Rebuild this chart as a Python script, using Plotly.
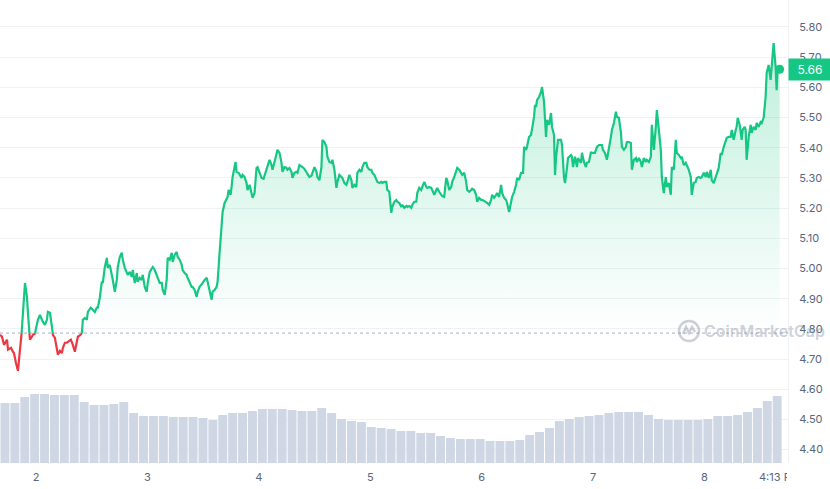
import plotly.graph_objects as go
from datetime import datetime, timedelta

# ---------------- data ----------------
start_time = datetime(2023, 3, 1, 16, 13)   # chart starts 7 days before 4:13 PM on day 8
end_label = "4:13 PM"

# hours since start_time
hours = [
    0.00, 0.43, 0.86, 1.51, 1.72, 2.37, 2.80, 3.01, 3.44, 3.87,
    4.09, 4.73, 4.95, 5.38, 5.81, 6.02, 6.45, 6.88, 7.10, 7.53,
    7.96, 8.17, 8.60, 9.03, 9.25, 9.68, 10.11, 10.32, 10.76, 11.19,
    11.40, 11.83, 12.26, 12.48, 12.91, 13.34, 13.55, 13.98, 14.41, 14.63,
    15.27, 15.70, 16.13, 16.56, 16.78, 17.21, 17.64, 17.85, 18.28, 18.71,
    18.93, 19.57, 20.00, 20.43, 20.86, 21.08, 21.51, 21.94, 22.16, 22.59,
    23.02, 23.23, 23.66, 24.09, 24.31, 24.74, 25.17, 25.38, 25.81, 26.24,
    26.46, 26.89, 27.32, 27.53, 27.96, 28.39, 28.61, 29.04, 29.47, 29.68,
    30.11, 30.54, 30.76, 31.19, 31.62, 31.83, 32.27, 32.70, 32.91, 33.34,
    33.77, 33.99, 34.42, 34.85, 35.06, 35.49, 35.92, 36.14, 36.57, 37.00,
    37.21, 37.64, 38.07, 38.29, 38.72, 39.15, 39.36, 39.79, 40.22, 40.44,
    40.87, 41.30, 41.51, 41.94, 42.37, 42.59, 43.02, 43.45, 43.67, 44.10,
    44.53, 44.74, 45.17, 45.60, 45.82, 46.25, 46.68, 46.89, 47.32, 47.75,
    47.97, 48.40, 48.83, 49.04, 49.26, 49.69, 49.90, 50.12, 50.76, 50.98,
    51.41, 52.05, 52.27, 52.70, 53.13, 53.34, 53.78, 54.21, 54.42, 54.85,
    55.28, 55.50, 55.93, 56.36, 56.79, 57.22, 57.65, 58.08, 58.51, 58.72,
    59.15, 59.58, 59.80, 60.23, 60.66, 60.87, 61.30, 61.73, 61.95, 62.38,
    62.81, 63.02, 63.45, 63.88, 64.10, 64.53, 64.96, 65.18, 65.61, 66.04,
    66.25, 66.68, 67.11, 67.33, 67.76, 68.19, 68.40, 68.83, 69.26, 69.48,
    69.91, 70.34, 70.55, 70.98, 71.41, 71.63, 72.06, 72.49, 72.70, 73.13,
    73.56, 73.78, 74.21, 74.64, 74.85, 75.29, 75.72, 75.93, 76.36, 76.79,
    77.01, 77.44, 77.87, 78.08, 78.51, 78.94, 79.16, 79.59, 80.02, 80.23,
    80.66, 81.09, 81.31, 81.74, 82.17, 82.38, 82.81, 83.24, 83.46, 83.89,
    84.32, 84.53, 84.96, 85.39, 85.61, 86.04, 86.47, 86.69, 87.12, 87.55,
    87.76, 88.19, 88.62, 88.84, 89.27, 89.70, 89.91, 90.34, 90.77, 90.99,
    91.42, 91.85, 92.06, 92.49, 92.92, 93.14, 93.57, 94.00, 94.21, 94.64,
    95.07, 95.29, 95.72, 96.15, 96.36, 96.80, 97.23, 97.44, 97.87, 98.30,
    98.52, 98.95, 99.38, 99.59, 100.02, 100.45, 100.67, 101.10, 101.53, 101.74,
    102.17, 102.60, 102.82, 103.25, 103.68, 103.89, 104.32, 104.75, 104.97, 105.40,
    105.83, 106.04, 106.47, 106.90, 107.12, 107.55, 107.98, 108.20, 108.63, 109.06,
    109.27, 109.70, 110.13, 110.35, 110.78, 111.21, 111.42, 111.85, 112.28, 112.71,
    112.93, 113.36, 113.57, 114.00, 114.43, 114.65, 115.08, 115.29, 115.51, 115.72,
    116.15, 116.58, 116.80, 117.23, 117.44, 117.66, 117.87, 118.31, 118.74, 118.95,
    119.38, 119.60, 119.81, 120.24, 120.89, 121.10, 121.53, 121.75, 122.18, 122.39,
    123.04, 123.25, 123.47, 123.90, 124.33, 124.54, 125.19, 125.40, 125.83, 126.26,
    126.48, 126.91, 127.34, 127.55, 128.20, 128.63, 129.06, 129.71, 129.92, 130.35,
    130.78, 131.21, 131.64, 131.86, 132.29, 132.72, 132.93, 133.36, 133.79, 134.01,
    134.44, 134.87, 135.08, 135.51, 135.94, 136.16, 136.59, 137.02, 137.23, 137.66,
    138.09, 138.31, 138.74, 139.17, 139.38, 139.82, 140.25, 140.46, 140.89, 141.32,
    141.54, 141.97, 142.40, 142.61, 143.04, 143.47, 143.69, 144.12, 144.55, 144.76,
    145.19, 145.62, 145.84, 146.27, 146.70, 146.91, 147.34, 147.77, 147.99, 148.42,
    148.85, 149.06, 149.49, 149.92, 150.14, 150.57, 151.00, 151.22, 151.65, 152.08,
    152.29, 152.72, 153.15, 153.37, 153.80, 154.23, 154.44, 154.87, 155.30, 155.52,
    155.95, 156.38, 156.59, 157.02, 157.45, 157.67, 158.10, 158.53, 158.74, 158.96,
    159.39, 159.82, 160.03, 160.46, 160.68, 160.89, 161.33, 161.76, 161.97, 162.40,
    162.83, 163.05, 163.48, 163.91, 164.12, 164.55, 164.98, 165.20, 165.63, 166.06,
    166.27, 166.70, 167.13, 167.35, 167.56, 168.00,
]

price = [
    4.780, 4.774, 4.747, 4.764, 4.731, 4.737, 4.724, 4.720, 4.687, 4.661,
    4.697, 4.797, 4.853, 4.952, 4.906, 4.853, 4.764, 4.774, 4.780, 4.784,
    4.823, 4.830, 4.846, 4.830, 4.823, 4.813, 4.830, 4.856, 4.853, 4.807,
    4.780, 4.770, 4.740, 4.714, 4.727, 4.720, 4.737, 4.754, 4.754, 4.757,
    4.764, 4.747, 4.724, 4.757, 4.774, 4.778, 4.784, 4.830, 4.836, 4.830,
    4.856, 4.870, 4.863, 4.856, 4.870, 4.870, 4.903, 4.956, 4.952, 5.005,
    5.035, 5.002, 5.012, 4.985, 4.962, 4.923, 4.962, 5.005, 5.038, 5.052,
    5.029, 5.002, 4.989, 4.979, 4.989, 4.972, 4.995, 4.952, 4.985, 4.956,
    4.969, 4.962, 4.979, 4.939, 4.923, 4.952, 4.989, 5.002, 5.005, 4.995,
    4.979, 4.972, 4.952, 4.952, 4.929, 4.913, 4.962, 5.035, 5.029, 5.052,
    5.022, 5.045, 5.055, 5.038, 5.029, 5.012, 4.995, 4.985, 4.979, 4.969,
    4.956, 4.939, 4.939, 4.929, 4.906, 4.923, 4.939, 4.946, 4.952, 4.962,
    4.969, 4.956, 4.923, 4.896, 4.923, 4.929, 4.939, 4.956, 5.052, 5.138,
    5.187, 5.217, 5.234, 5.237, 5.260, 5.244, 5.270, 5.303, 5.353, 5.320,
    5.317, 5.300, 5.310, 5.303, 5.283, 5.260, 5.277, 5.250, 5.234, 5.250,
    5.333, 5.336, 5.320, 5.300, 5.297, 5.317, 5.343, 5.360, 5.343, 5.327,
    5.353, 5.383, 5.393, 5.383, 5.350, 5.320, 5.336, 5.333, 5.327, 5.333,
    5.320, 5.300, 5.317, 5.320, 5.317, 5.343, 5.336, 5.336, 5.330, 5.320,
    5.317, 5.303, 5.307, 5.320, 5.336, 5.320, 5.303, 5.293, 5.336, 5.426,
    5.419, 5.403, 5.370, 5.353, 5.350, 5.360, 5.327, 5.267, 5.287, 5.310,
    5.303, 5.300, 5.283, 5.277, 5.287, 5.310, 5.293, 5.267, 5.277, 5.270,
    5.317, 5.327, 5.320, 5.336, 5.350, 5.350, 5.336, 5.327, 5.327, 5.317,
    5.310, 5.293, 5.287, 5.283, 5.287, 5.283, 5.287, 5.287, 5.260, 5.254,
    5.184, 5.204, 5.221, 5.227, 5.221, 5.217, 5.204, 5.211, 5.201, 5.207,
    5.204, 5.207, 5.201, 5.211, 5.221, 5.221, 5.250, 5.267, 5.260, 5.270,
    5.287, 5.270, 5.267, 5.270, 5.267, 5.260, 5.244, 5.260, 5.267, 5.254,
    5.244, 5.240, 5.237, 5.300, 5.293, 5.260, 5.270, 5.287, 5.303, 5.320,
    5.333, 5.327, 5.317, 5.310, 5.317, 5.287, 5.260, 5.254, 5.260, 5.264,
    5.260, 5.244, 5.221, 5.234, 5.227, 5.227, 5.224, 5.221, 5.217, 5.211,
    5.227, 5.244, 5.234, 5.244, 5.250, 5.237, 5.277, 5.250, 5.234, 5.227,
    5.217, 5.187, 5.217, 5.237, 5.254, 5.277, 5.300, 5.293, 5.317, 5.317,
    5.403, 5.393, 5.403, 5.436, 5.442, 5.459, 5.502, 5.542, 5.535, 5.558,
    5.568, 5.585, 5.601, 5.552, 5.469, 5.436, 5.492, 5.476, 5.515, 5.469,
    5.442, 5.310, 5.366, 5.426, 5.426, 5.409, 5.303, 5.283, 5.333, 5.366,
    5.376, 5.370, 5.336, 5.370, 5.336, 5.366, 5.350, 5.383, 5.353, 5.336,
    5.350, 5.353, 5.386, 5.383, 5.383, 5.403, 5.409, 5.409, 5.393, 5.383,
    5.360, 5.393, 5.436, 5.459, 5.482, 5.519, 5.502, 5.499, 5.452, 5.403,
    5.393, 5.403, 5.419, 5.419, 5.416, 5.327, 5.360, 5.366, 5.353, 5.366,
    5.353, 5.336, 5.366, 5.353, 5.360, 5.353, 5.370, 5.476, 5.393, 5.469,
    5.525, 5.459, 5.393, 5.303, 5.250, 5.303, 5.270, 5.283, 5.244, 5.336,
    5.327, 5.426, 5.383, 5.376, 5.366, 5.370, 5.343, 5.350, 5.343, 5.327,
    5.303, 5.244, 5.283, 5.287, 5.300, 5.303, 5.300, 5.303, 5.317, 5.303,
    5.320, 5.300, 5.327, 5.293, 5.283, 5.303, 5.317, 5.333, 5.383, 5.376,
    5.403, 5.426, 5.432, 5.436, 5.436, 5.459, 5.426, 5.459, 5.469, 5.499,
    5.476, 5.426, 5.459, 5.469, 5.459, 5.360, 5.436, 5.476, 5.449, 5.469,
    5.459, 5.482, 5.469, 5.485, 5.482, 5.499, 5.568, 5.648, 5.674, 5.625,
    5.668, 5.747, 5.668, 5.591, 5.668, 5.660,
]

baseline_price = 4.786   # dotted reference line (opening price)

# volume bars, one per 128-minute interval, arbitrary units (M)
volume = [
    60, 60, 66, 69, 69, 68, 68, 68, 61, 58,
    58, 59, 61, 50, 47, 47, 47, 46, 46, 46,
    45, 43, 48, 50, 50, 52, 54, 54, 54, 53,
    52, 52, 55, 50, 44, 42, 41, 36, 35, 34,
    32, 32, 30, 30, 27, 25, 24, 24, 24, 22,
    22, 22, 23, 28, 31, 35, 42, 44, 46, 47,
    48, 50, 51, 51, 51, 48, 44, 43, 43, 43,
    43, 44, 47, 47, 48, 51, 55, 62, 67,
]
volume_step_minutes = 128

day_ticks = [2, 3, 4, 5, 6, 7, 8]
price_ticks = [4.40, 4.50, 4.60, 4.70, 4.80, 4.90, 5.00, 5.10, 5.20, 5.30,
               5.40, 5.50, 5.60, 5.70, 5.80]

# ---------------- styling ----------------
GREEN = "#16c784"
RED = "#ea3943"
GRID = "#eff2f5"
TXT = "#58667e"
VOL = "#cfd6e4"
FONT = "Inter"

# ---------------- derived series ----------------
seg_h, seg_p = [], []
for i in range(len(hours)):
    if i > 0:
        p0, p1 = price[i - 1], price[i]
        if (p0 - baseline_price) * (p1 - baseline_price) < 0:
            f = (baseline_price - p0) / (p1 - p0)
            seg_h.append(hours[i - 1] + f * (hours[i] - hours[i - 1]))
            seg_p.append(baseline_price)
    seg_h.append(hours[i])
    seg_p.append(price[i])

seg_t = [start_time + timedelta(hours=h) for h in seg_h]
green_y = [p if p >= baseline_price else None for p in seg_p]
red_y = [p if p <= baseline_price else None for p in seg_p]
fill_y = [max(p, baseline_price) for p in seg_p]

vol_t = [start_time + timedelta(minutes=volume_step_minutes * (i + 0.5)) for i in range(len(volume))]

t_end = start_time + timedelta(hours=hours[-1])
x_range = [start_time, start_time + timedelta(hours=169.8)]
day_tickvals = [datetime(start_time.year, start_time.month, d) for d in day_ticks]

fig = go.Figure()

# volume
fig.add_trace(go.Bar(x=vol_t, y=volume, marker=dict(color=VOL, line=dict(width=0)),
                     yaxis="y2", hoverinfo="skip", showlegend=False))

# fill baseline
fig.add_trace(go.Scatter(x=[seg_t[0], seg_t[-1]], y=[baseline_price, baseline_price],
                         mode="lines", line=dict(width=0, color="rgba(0,0,0,0)"),
                         hoverinfo="skip", showlegend=False))
fig.add_trace(go.Scatter(
    x=seg_t, y=fill_y, mode="lines", line=dict(width=0, color="rgba(0,0,0,0)"),
    fill="tonexty",
    fillgradient=dict(type="vertical", start=baseline_price, stop=max(price),
                      colorscale=[[0, "rgba(22,199,132,0.0)"], [1, "rgba(22,199,132,0.28)"]]),
    hoverinfo="skip", showlegend=False))

# price line
fig.add_trace(go.Scatter(x=seg_t, y=red_y, mode="lines",
                         line=dict(color=RED, width=2.2), showlegend=False))
fig.add_trace(go.Scatter(x=seg_t, y=green_y, mode="lines",
                         line=dict(color=GREEN, width=2.2), showlegend=False))
fig.add_trace(go.Scatter(x=[t_end], y=[price[-1]], mode="markers",
                         marker=dict(color=GREEN, size=9), showlegend=False))

# dotted baseline
fig.add_shape(type="line", xref="paper", x0=0, x1=1, yref="y",
              y0=baseline_price, y1=baseline_price,
              line=dict(color="#a6b0c3", width=1, dash="dot"))

# watermark logo
wm_col = "rgba(128,138,157,0.40)"
fig.add_shape(type="circle", xref="paper", yref="paper",
              xsizemode="pixel", ysizemode="pixel",
              xanchor=689 / 788, yanchor=1 - 331 / 463,
              x0=-10, x1=10, y0=-10, y1=10,
              line=dict(color=wm_col, width=2.5))
fig.add_shape(type="path", xref="paper", yref="paper",
              xsizemode="pixel", ysizemode="pixel",
              xanchor=689 / 788, yanchor=1 - 331 / 463,
              path="M -6 -3 L -3 4 L 0 -2 L 3 4 L 6 -1",
              line=dict(color=wm_col, width=2.5))
fig.add_annotation(text="CoinMarketCap", xref="paper", yref="paper",
                   x=702 / 788, y=1 - 331 / 463, xanchor="left", yanchor="middle",
                   showarrow=False,
                   font=dict(family=FONT, size=16, color=wm_col, weight=600))

# current price tag
fig.add_annotation(text=f"{price[-1]:.2f}", xref="paper", yref="y",
                   x=1, y=price[-1], xanchor="left", yanchor="middle",
                   showarrow=False, bgcolor=GREEN, width=38, height=17, borderpad=2,
                   font=dict(family=FONT, size=12, color="white"))

# end time label (clipped like the original)
fig.add_annotation(text=end_label, xref="x", yref="paper", x=t_end, y=-14 / 463,
                   xanchor="left", yanchor="middle", xshift=-22, showarrow=False,
                   width=28, align="left", borderpad=0,
                   font=dict(family=FONT, size=11, color=TXT))

fig.update_layout(
    width=830, height=489,
    margin=dict(l=0, r=42, t=0, b=26),
    paper_bgcolor="white", plot_bgcolor="white",
    bargap=0.1,
    font=dict(family=FONT, size=11, color=TXT),
    xaxis=dict(type="date", range=x_range, tickvals=day_tickvals,
               ticktext=[str(d) for d in day_ticks], showgrid=False, zeroline=False,
               showline=False, ticks="", ticklabelstandoff=6,
               tickfont=dict(family=FONT, size=11, color=TXT)),
    yaxis=dict(side="right", range=[4.3556, 5.8894], tickvals=price_ticks,
               ticktext=[f"{v:.2f}" for v in price_ticks], showgrid=True,
               gridcolor=GRID, gridwidth=1, zeroline=False, showline=True,
               linecolor=GRID, ticks="", ticklabelstandoff=8,
               tickfont=dict(family=FONT, size=11, color=TXT)),
    yaxis2=dict(overlaying="y", range=[0, 463], visible=False, showgrid=False),
    hovermode=False,
)

fig.write_html("out.html",
               config={"displayModeBar": False},
               post_script="document.body.style.margin='0';document.body.style.overflow='hidden';")
